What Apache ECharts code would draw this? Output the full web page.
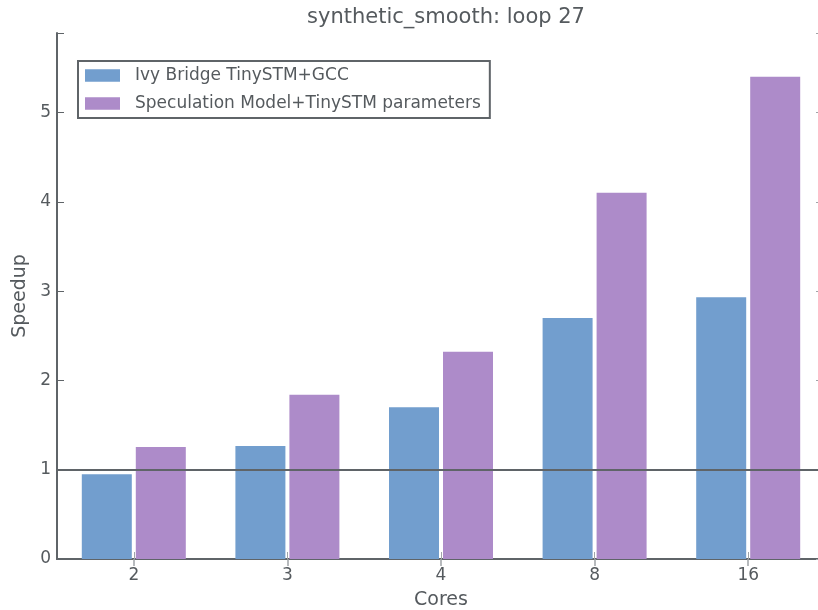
<!DOCTYPE html>
<html><head><meta charset="utf-8">
<script src="https://cdn.jsdelivr.net/npm/echarts@6/dist/echarts.min.js"></script>
<style>html,body{margin:0;padding:0;background:#fff}#c{width:818px;height:610px}</style>
</head><body><div id="c"></div>
<script>
var categories = ['2', '3', '4', '8', '16'];
var ivyBridge = [0.95, 1.265, 1.70, 2.70, 2.93];
var specModel = [1.255, 1.84, 2.32, 4.10, 5.40];
var seriesNames = ['Ivy Bridge TinySTM+GCC', 'Speculation Model+TinySTM parameters'];
var baseline = 1;
var yTicks = [0, 1, 2, 3, 4, 5];

var FONT = 'DejaVu Sans';
var TXT = '#555a5e';
var AX = '#5f6468';
var TICK = '#a0a4a8';

var chart = echarts.init(document.getElementById('c'), null, {renderer: 'canvas'});
chart.setOption({
  animation: false,
  textStyle: {fontFamily: FONT},
  title: {
    text: 'synthetic_smooth: loop 27',
    left: 441, top: 2, textAlign: 'center',
    textStyle: {fontFamily: FONT, fontSize: 21, fontWeight: 'normal', color: TXT}
  },
  grid: {left: 57, top: 33, width: 768, height: 526, containLabel: false, outerBoundsMode: 'none'},
  legend: {
    left: 78, top: 61, orient: 'vertical',
    padding: [6, 9, 6, 7],
    itemWidth: 35, itemHeight: 12.5, itemGap: 11,
    borderColor: AX, borderWidth: 2,
    icon: 'rect',
    textStyle: {fontFamily: FONT, fontSize: 17, color: TXT, padding: [0, 0, 0, 10]},
    data: seriesNames
  },
  xAxis: [{
    type: 'category', data: categories, position: 'bottom',
    name: 'Cores', nameLocation: 'middle', nameGap: 32,
    nameTextStyle: {fontFamily: FONT, fontSize: 19, color: TXT},
    axisLine: {show: true, lineStyle: {color: AX, width: 2}},
    axisTick: {show: true, inside: true, length: 7, alignWithLabel: true, lineStyle: {color: TICK}},
    axisLabel: {fontFamily: FONT, fontSize: 17, color: TXT, margin: 8},
    splitLine: {show: false}
  }, {
    type: 'category', data: categories, position: 'top',
    axisLine: {show: true, lineStyle: {color: AX, width: 2}},
    axisTick: {show: true, inside: true, length: 7, alignWithLabel: true, lineStyle: {color: TICK, width: 1.5}},
    axisLabel: {show: false},
    splitLine: {show: false}
  }],
  yAxis: [{
    type: 'value', min: 0, max: 5.89, interval: 1, position: 'left',
    name: 'Speedup', nameLocation: 'middle', nameGap: 27,
    nameTextStyle: {fontFamily: FONT, fontSize: 19, color: TXT},
    axisLine: {show: true, lineStyle: {color: AX, width: 2}},
    axisTick: {show: true, inside: true, length: 7, lineStyle: {color: AX}},
    axisLabel: {fontFamily: FONT, fontSize: 17, color: TXT, margin: 6,
      formatter: function (v) { return yTicks.indexOf(v) >= 0 ? String(v) : ''; }},
    splitLine: {show: false}
  }, {
    type: 'value', min: 0, max: 5.89, interval: 1, position: 'right',
    axisLine: {show: true, lineStyle: {color: AX, width: 2}},
    axisTick: {show: true, inside: true, length: 9, lineStyle: {color: TICK}},
    axisLabel: {show: false},
    splitLine: {show: false}
  }],
  series: [{
    name: seriesNames[0], type: 'bar', data: ivyBridge,
    barWidth: 50, barGap: '8%',
    itemStyle: {color: '#729ECE'},
    markLine: {
      silent: true, symbol: 'none', label: {show: false},
      lineStyle: {color: AX, width: 2, type: 'solid'},
      data: [{yAxis: baseline}]
    },
    z: 2
  }, {
    name: seriesNames[1], type: 'bar', data: specModel,
    barWidth: 50, barGap: '8%',
    itemStyle: {color: '#AD8BC9'},
    z: 2
  }]
});
</script>
</body></html>
